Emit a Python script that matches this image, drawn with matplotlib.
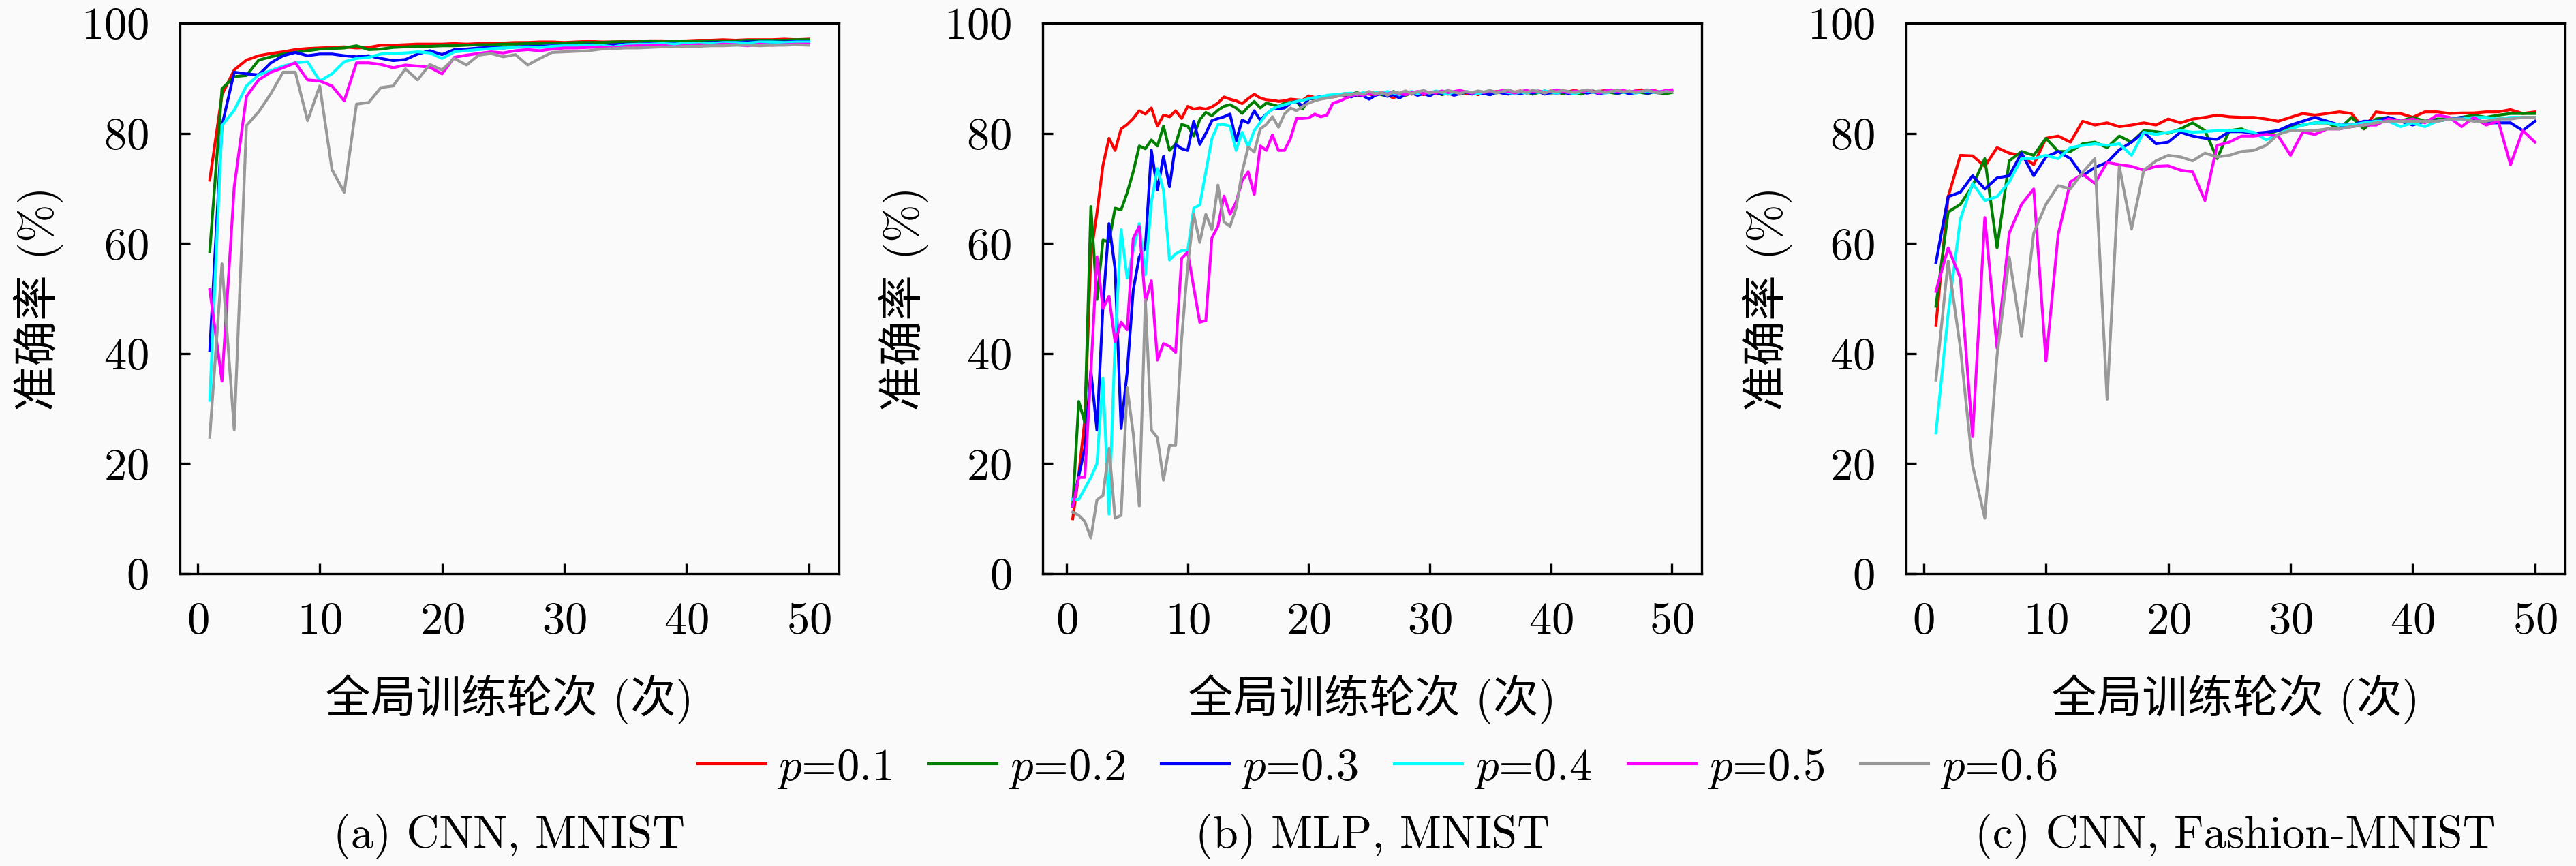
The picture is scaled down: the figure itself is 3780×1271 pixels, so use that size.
import numpy as np
import matplotlib
matplotlib.use('Agg')
import matplotlib.pyplot as plt

plt.rcParams['font.family'] = ['cmr10', 'Noto Sans CJK SC']
plt.rcParams['mathtext.fontset'] = 'cm'
plt.rcParams['axes.formatter.use_mathtext'] = True
plt.rcParams['axes.unicode_minus'] = False
plt.rcParams['font.size'] = 16

labels = ['$p$=0.1', '$p$=0.2', '$p$=0.3', '$p$=0.4', '$p$=0.5', '$p$=0.6']
colors = ['#ff0000', '#008000', '#0000ff', '#00ffff', '#ff00ff', '#999999']
captions = ['(a) CNN, MNIST', '(b) MLP, MNIST', '(c) CNN, Fashion-MNIST']

# (a) CNN, MNIST  - epochs 1..50
epochs_a = list(range(1, 51))
a_p01 = [71.5, 87.0, 91.5, 93.3, 94.1, 94.5, 94.8, 95.2, 95.4, 95.5,
         95.6, 95.7, 95.5, 95.6, 96.0, 96.0, 96.1, 96.2, 96.2, 96.2,
         96.3, 96.2, 96.3, 96.4, 96.4, 96.5, 96.5, 96.6, 96.6, 96.5,
         96.6, 96.7, 96.6, 96.6, 96.7, 96.7, 96.8, 96.8, 96.7, 96.8,
         96.9, 96.9, 97.0, 96.9, 97.0, 97.0, 97.0, 97.1, 97.0, 97.1]
a_p02 = [58.5, 88.1, 90.3, 90.5, 93.3, 93.9, 94.4, 94.7, 95.0, 95.3,
         95.4, 95.5, 95.9, 95.2, 95.3, 95.6, 95.7, 95.8, 95.8, 95.9,
         95.9, 96.0, 96.1, 96.1, 96.2, 96.2, 96.3, 96.3, 96.4, 96.4,
         96.5, 96.5, 96.5, 96.6, 96.6, 96.6, 96.7, 96.6, 96.7, 96.7,
         96.8, 96.8, 96.8, 96.8, 96.9, 96.9, 96.9, 96.9, 97.0, 97.0]
a_p03 = [40.5, 81.4, 91.1, 90.8, 90.6, 92.8, 94.1, 94.7, 94.1, 94.4,
         94.4, 94.1, 93.9, 94.1, 93.6, 93.2, 93.4, 94.4, 95.0, 94.3,
         95.2, 95.3, 95.5, 95.6, 95.5, 95.7, 95.8, 95.8, 95.9, 95.9,
         96.0, 96.1, 96.0, 96.1, 96.2, 96.2, 96.3, 96.3, 96.4, 96.4,
         96.4, 96.5, 96.5, 96.5, 96.6, 96.6, 96.6, 96.6, 96.7, 96.7]
a_p04 = [31.5, 81.4, 84.2, 88.6, 90.6, 91.4, 92.2, 92.8, 93.0, 89.5,
         90.8, 93.0, 93.6, 93.8, 94.4, 94.5, 94.6, 94.8, 94.6, 93.6,
         94.8, 95.0, 95.2, 95.4, 95.5, 95.6, 95.7, 95.6, 95.8, 95.9,
         95.9, 96.0, 96.0, 95.7, 96.1, 96.2, 96.2, 96.3, 96.2, 96.4,
         96.4, 96.3, 96.5, 96.5, 96.4, 96.6, 96.6, 96.5, 96.6, 96.6]
a_p05 = [51.6, 35.0, 70.2, 86.7, 89.7, 91.1, 91.9, 92.8, 89.7, 89.5,
         88.6, 85.9, 92.8, 92.8, 92.5, 91.9, 92.4, 92.2, 92.0, 90.8,
         93.8, 94.2, 94.5, 94.8, 94.6, 95.0, 95.2, 95.0, 95.3, 95.5,
         95.5, 95.6, 95.7, 95.5, 95.8, 95.9, 95.9, 96.0, 95.7, 96.0,
         96.1, 96.0, 96.2, 96.1, 95.9, 96.2, 96.0, 96.1, 96.2, 96.2]
a_p06 = [24.8, 56.3, 26.2, 81.4, 83.9, 87.2, 91.1, 91.1, 82.3, 88.6,
         73.4, 69.3, 85.3, 85.6, 88.3, 88.6, 91.7, 89.7, 92.5, 91.5,
         93.6, 92.4, 94.2, 94.5, 93.9, 94.3, 92.4, 93.6, 94.7, 94.8,
         94.9, 95.0, 95.3, 95.4, 95.5, 95.5, 95.6, 95.7, 95.7, 95.8,
         95.8, 95.9, 95.9, 96.0, 96.0, 95.9, 96.0, 96.0, 96.1, 96.0]

# (b) MLP, MNIST  - evaluated every half round, 0.5..50
epochs_b = [k / 2 for k in range(1, 101)]
b_p01 = [10.0, 18.0, 28.0, 58.0, 65.5, 74.2, 79.1, 76.9, 80.8, 81.6,
         82.7, 84.1, 83.5, 84.6, 81.3, 83.3, 83.0, 84.1, 82.7, 84.9,
         84.4, 84.6, 84.4, 84.8, 85.5, 86.6, 86.2, 85.9, 85.4, 86.3,
         87.1, 86.4, 86.1, 86.0, 85.8, 85.9, 86.2, 86.1, 86.0, 86.8,
         86.5, 86.6, 86.7, 86.6, 86.8, 86.9,
         87.0, 86.8, 87.2, 87.1, 86.9, 87.3, 87.0, 86.4, 87.2,
         87.4, 87.1, 87.3, 87.0, 87.5, 87.2, 87.4, 87.1, 87.3,
         87.6, 87.2, 87.4, 87.0, 87.5, 87.3, 87.6, 87.4, 87.2,
         87.5, 87.7, 87.3, 87.5, 87.6, 87.4, 87.7, 87.5, 87.3,
         87.6, 87.8, 87.5, 87.7, 87.4, 87.6, 87.8, 87.5, 87.7,
         87.6, 87.4, 87.7, 87.9, 87.6, 87.8, 87.5, 87.7, 87.8]
b_p02 = [12.3, 31.3, 27.5, 66.7, 49.8, 60.6, 60.3, 66.4, 66.1, 69.2,
         73.0, 77.7, 77.2, 78.8, 77.7, 81.3, 76.9, 78.0, 81.6, 81.3,
         79.5, 82.5, 83.8, 83.2, 84.2, 84.9, 85.2, 84.6, 83.6, 84.8,
         85.8, 84.6, 85.5, 85.2, 84.9, 85.5, 85.6, 85.8, 84.4, 86.3,
         86.3, 86.5, 86.6, 86.8, 87.0, 87.2,
         87.1, 87.4, 86.9, 87.3, 87.5, 87.0, 86.8, 87.6, 87.2,
         86.9, 87.3, 87.1, 87.5, 87.2, 87.6, 87.0, 87.3, 87.4,
         87.1, 87.5, 87.2, 87.6, 87.3, 87.0, 87.4, 87.6, 87.2,
         87.5, 87.3, 87.6, 87.1, 87.4, 87.7, 87.3, 87.5, 87.2,
         87.6, 87.4, 87.1, 87.5, 87.7, 87.3, 87.6, 87.4, 87.2,
         87.5, 87.3, 87.6, 87.4, 87.2, 87.5, 87.3, 87.2, 87.4]
b_p03 = [12.3, 17.8, 22.8, 36.9, 26.1, 48.7, 63.6, 55.4, 26.4, 36.6,
         51.5, 57.6, 59.2, 76.9, 69.7, 75.8, 70.3, 78.0, 77.2, 76.9,
         82.2, 78.0, 80.0, 82.3, 82.7, 83.0, 83.5, 78.6, 82.4, 81.9,
         84.1, 82.4, 83.5, 84.4, 84.5, 84.6, 85.5, 85.8, 84.9, 86.3,
         86.4, 86.7, 86.5, 86.8, 86.9, 87.0,
         86.6, 87.0, 86.8, 86.2, 86.9, 87.2, 86.7, 87.0, 86.4,
         87.1, 87.3, 86.9, 87.2, 86.8, 87.4, 87.1, 87.3, 86.9,
         87.2, 87.5, 87.1, 87.4, 87.2, 87.0, 87.5, 87.3, 87.1,
         87.4, 87.2, 87.5, 87.3, 87.6, 87.1, 87.4, 87.3, 87.5,
         87.2, 87.4, 87.6, 87.3, 87.5, 87.2, 87.4, 87.6, 87.3,
         87.5, 87.2, 87.4, 87.6, 87.3, 87.5, 87.4, 87.6, 87.8]
b_p04 = [13.5, 13.5, 15.5, 17.5, 20.0, 35.5, 10.8, 42.0, 62.5, 53.7,
         58.7, 63.6, 54.3, 67.5, 73.6, 69.7, 57.0, 58.1, 58.7, 58.7,
         66.4, 67.0, 73.0, 79.0, 81.6, 81.6, 81.3, 76.9, 80.2, 77.5,
         80.5, 82.0, 83.5, 84.4, 84.9, 85.2, 85.5, 85.8, 86.0, 86.3,
         86.5, 86.6, 86.9, 87.0, 87.1, 87.2,
         87.3, 87.0, 87.4, 87.1, 87.5, 87.2, 87.6, 87.3, 87.0,
         87.4, 87.6, 87.2, 87.5, 87.3, 87.7, 87.4, 87.1, 87.5,
         87.3, 87.6, 87.4, 87.2, 87.5, 87.7, 87.3, 87.6, 87.4,
         87.2, 87.5, 87.3, 87.6, 87.4, 87.7, 87.5, 87.3, 87.6,
         87.4, 87.2, 87.5, 87.7, 87.4, 87.6, 87.3, 87.5, 87.7,
         87.4, 87.6, 87.3, 87.5, 87.7, 87.4, 87.6, 87.5, 87.7]
b_p05 = [12.3, 17.5, 17.5, 36.6, 57.6, 48.2, 50.4, 42.1, 45.7, 44.3,
         60.9, 63.1, 49.3, 53.2, 38.8, 41.8, 41.3, 40.2, 57.3, 58.4,
         52.0, 45.7, 46.0, 61.0, 63.1, 68.6, 65.3, 67.5, 71.4, 73.0,
         68.9, 77.7, 76.9, 79.7, 76.9, 76.9, 79.1, 82.7, 82.7, 82.8,
         83.5, 83.0, 83.3, 85.5, 85.8, 86.3,
         86.8, 87.1, 86.9, 87.3, 87.0, 87.4, 87.1, 87.5, 87.2,
         87.0, 87.4, 87.6, 87.2, 87.5, 87.3, 87.7, 87.4, 87.6,
         87.8, 87.5, 87.3, 87.6, 87.4, 87.7, 87.5, 87.8, 87.6,
         87.3, 87.6, 87.8, 87.5, 87.7, 87.4, 87.6, 87.9, 87.6,
         87.4, 87.7, 87.5, 87.8, 87.6, 87.3, 87.7, 87.9, 87.6,
         87.8, 87.5, 87.7, 87.6, 87.9, 87.7, 87.5, 87.8, 87.9]
b_p06 = [11.2, 10.6, 9.5, 6.5, 13.4, 14.2, 22.8, 10.1, 10.6, 33.8,
         25.5, 12.3, 49.8, 26.1, 24.7, 17.0, 23.3, 23.3, 42.7, 55.9,
         65.3, 60.2, 65.3, 62.5, 70.6, 63.9, 63.1, 66.4, 73.0, 77.5,
         76.6, 80.8, 81.6, 83.0, 81.1, 83.5, 84.6, 84.1, 84.9, 85.5,
         85.9, 86.2, 86.4, 86.6, 86.8, 87.0,
         87.0, 87.3, 87.1, 87.6, 87.2, 87.4, 86.9, 87.5, 87.3,
         87.7, 87.2, 87.5, 87.8, 87.3, 87.6, 87.4, 87.8, 87.5,
         87.2, 87.6, 87.4, 87.7, 87.5, 87.8, 87.3, 87.6, 87.9,
         87.5, 87.7, 87.4, 87.8, 87.6, 87.3, 87.7, 87.5, 87.8,
         87.6, 87.4, 87.7, 87.9, 87.5, 87.7, 87.4, 87.6, 87.8,
         87.5, 87.7, 87.4, 87.6, 87.8, 87.5, 87.3, 87.6, 87.5]

# (c) CNN, Fashion-MNIST  - epochs 1..50
epochs_c = list(range(1, 51))
c_p01 = [45.1, 68.5, 76.0, 75.9, 74.0, 77.4, 76.4, 76.0, 74.3, 79.1,
         79.5, 78.4, 82.2, 81.5, 81.9, 81.2, 81.5, 81.9, 81.5, 82.6,
         81.9, 82.6, 82.9, 83.3, 83.0, 82.9, 82.9, 82.6, 82.2, 82.9,
         83.6, 83.3, 83.6, 83.9, 83.6, 80.8, 83.9, 83.6, 83.6, 82.9,
         83.9, 83.9, 83.6, 83.7, 83.7, 83.9, 83.9, 84.3, 83.6, 83.9]
c_p02 = [48.6, 65.7, 67.1, 70.5, 75.4, 59.2, 75.0, 76.7, 76.0, 79.1,
         76.7, 76.7, 78.1, 78.4, 77.4, 79.5, 78.4, 80.5, 80.3, 80.0,
         80.8, 81.9, 80.5, 75.4, 80.5, 80.8, 79.8, 79.8, 80.5, 81.2,
         81.5, 81.9, 81.9, 80.8, 82.9, 80.8, 82.6, 82.9, 82.2, 82.9,
         82.2, 82.6, 82.6, 82.9, 83.3, 82.9, 83.3, 83.6, 83.6, 83.6]
c_p03 = [56.5, 68.5, 69.3, 72.3, 69.9, 71.9, 72.3, 76.4, 72.3, 75.7,
         76.7, 75.4, 72.3, 73.8, 74.7, 77.0, 78.4, 80.2, 78.1, 78.4,
         80.2, 79.5, 79.1, 78.9, 80.3, 80.3, 80.0, 80.2, 80.5, 81.5,
         82.2, 82.9, 82.2, 81.5, 81.5, 82.2, 82.2, 82.9, 82.2, 81.5,
         82.2, 82.2, 82.6, 82.9, 82.6, 81.9, 81.9, 81.9, 80.5, 82.2]
c_p04 = [25.6, 47.2, 64.4, 70.9, 67.8, 68.5, 71.2, 75.4, 75.4, 76.0,
         75.4, 77.4, 77.8, 78.1, 77.8, 78.1, 76.0, 80.2, 79.8, 80.2,
         80.5, 80.2, 80.3, 80.5, 80.5, 80.5, 80.2, 78.8, 79.8, 80.8,
         81.5, 81.9, 81.9, 81.5, 81.5, 81.9, 82.2, 82.2, 81.2, 81.9,
         81.2, 82.2, 82.6, 82.6, 82.9, 82.9, 82.6, 82.9, 82.9, 82.9]
c_p05 = [51.3, 59.2, 53.7, 24.9, 64.7, 41.0, 61.9, 67.1, 69.9, 38.6,
         61.6, 71.2, 72.6, 70.9, 74.7, 74.3, 74.0, 73.3, 74.0, 74.1,
         73.3, 73.0, 67.8, 77.8, 78.4, 79.5, 79.5, 79.8, 79.5, 76.0,
         80.2, 79.8, 80.8, 80.8, 81.2, 81.5, 81.5, 82.6, 82.2, 82.6,
         81.9, 83.3, 82.9, 81.2, 82.9, 81.5, 82.2, 74.3, 80.5, 78.4]
c_p06 = [35.2, 56.8, 41.0, 19.7, 10.1, 39.6, 57.5, 43.1, 61.9, 67.1,
         70.5, 69.9, 72.9, 75.4, 31.7, 74.0, 62.6, 73.3, 75.0, 76.0,
         75.7, 75.0, 76.4, 75.7, 76.0, 76.7, 76.9, 77.8, 79.8, 80.5,
         80.5, 80.5, 80.8, 80.8, 81.2, 81.5, 81.9, 82.2, 82.2, 82.2,
         82.2, 82.2, 82.6, 82.6, 82.2, 82.2, 82.6, 82.6, 82.9, 82.9]

bg = '#fafafa'
fig = plt.figure(figsize=(12.6, 1271 / 300), dpi=300, facecolor=bg)

def panel(left, x, series, xlim, caption, ylab_x):
    ax = fig.add_axes([left, 0.3375, 0.2558, 0.6357], facecolor=bg)
    lines = []
    for y, c, lab in zip(series, colors, labels):
        ln, = ax.plot(x, y, color=c, lw=1.0, label=lab)
        lines.append(ln)
    ax.set_xlim(*xlim)
    ax.set_ylim(0, 100)
    ax.set_xticks([0, 10, 20, 30, 40, 50])
    ax.set_yticks([0, 20, 40, 60, 80, 100])
    ax.tick_params(direction='in', length=3.5, width=0.8, top=False, right=False,
                   labelsize=16)
    ax.tick_params(axis='x', pad=10)
    ax.tick_params(axis='y', pad=11)
    for s in ax.spines.values():
        s.set_linewidth(0.8)
    ax.set_xlabel('全局训练轮次 (次)', fontsize=16, va='center')
    ax.xaxis.set_label_coords(0.5, -0.228)
    ax.set_ylabel('准确率 (%)', fontsize=16, va='center')
    ax.yaxis.set_label_coords(ylab_x, 0.5)
    fig.text(left + 0.2558 / 2, 0.034, caption, ha='center', va='center', fontsize=16)
    return lines

lines = panel(0.0698, epochs_a, [a_p01, a_p02, a_p03, a_p04, a_p05, a_p06],
              (-1.45, 52.45), captions[0], -0.215)
panel(0.4048, epochs_b, [b_p01, b_p02, b_p03, b_p04, b_p05, b_p06],
      (-1.975, 52.475), captions[1], -0.211)
panel(0.7399, epochs_c, [c_p01, c_p02, c_p03, c_p04, c_p05, c_p06],
      (-1.45, 52.45), captions[2], -0.211)

fig.legend(lines, labels, loc='center', bbox_to_anchor=(0.5347, 0.1125), ncol=6,
           frameon=False, fontsize=16, handlelength=1.5, handletextpad=0.25,
           columnspacing=0.8)

fig.savefig('out.png', dpi=300, facecolor=bg)
